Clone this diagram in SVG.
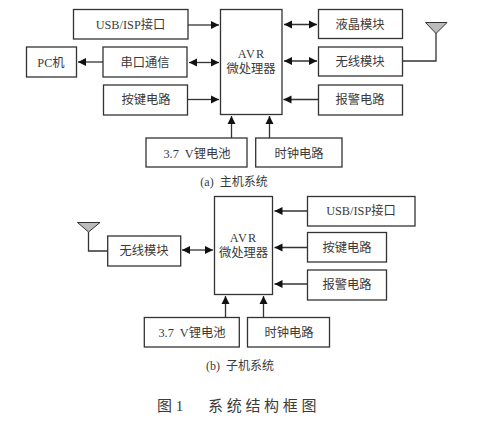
<svg xmlns="http://www.w3.org/2000/svg" width="484" height="425" viewBox="0 0 484 425">
<style>
.b{fill:#fff;stroke:#333;stroke-width:1.3}
.t{font-family:"Liberation Serif","Noto Sans CJK SC",serif;font-size:12.300px;fill:#3a3a3a;text-anchor:middle}
.c{font-size:11.500px}
.n{letter-spacing:1px}
.g{font-size:15px}
.l{fill:none;stroke:#333;stroke-width:1.3}
.a{fill:#bbb;stroke:#333;stroke-width:1}
</style>
<defs>
<marker id="h" markerWidth="9" markerHeight="9" refX="8" refY="4.500" orient="auto-start-reverse" markerUnits="userSpaceOnUse"><path d="M0 0.500L8 4.500L0 8.500Z" fill="#111"/></marker>
</defs>
<rect width="484" height="425" fill="#fff"/>
<g id="connectors">
<path class="l" marker-end="url(#h)" d="M188 25H219"/>
<path class="l" marker-end="url(#h)" d="M103 62H78"/>
<path class="l" marker-start="url(#h)" marker-end="url(#h)" d="M189 62.500H219"/>
<path class="l" marker-end="url(#h)" d="M188 99.500H219"/>
<path class="l" marker-end="url(#h)" d="M231.500 138V116"/>
<path class="l" marker-end="url(#h)" d="M269.500 138V116"/>
<path class="l" marker-start="url(#h)" marker-end="url(#h)" d="M284 24.500H317"/>
<path class="l" marker-start="url(#h)" marker-end="url(#h)" d="M284 61H317"/>
<path class="l" marker-end="url(#h)" d="M318 99.500H283.500"/>
<path class="l" d="M402.500 61H436V33"/>
<path class="l" marker-start="url(#h)" marker-end="url(#h)" d="M182 250H213"/>
<path class="l" d="M107.500 251H88.500V232"/>
<path class="l" marker-end="url(#h)" d="M225.500 317.500V296"/>
<path class="l" marker-end="url(#h)" d="M263.500 317.500V296"/>
<path class="l" marker-end="url(#h)" d="M307.500 211H274.500"/>
<path class="l" marker-end="url(#h)" d="M307.500 247.500H274.500"/>
<path class="l" marker-end="url(#h)" d="M307.500 284H274.500"/>
<path class="a" d="M425.500 22.500H447L436 33.500Z"/>
<path class="a" d="M77.500 222.500H100L88.500 232Z"/>
</g>
<g id="top-avr"><rect class="b" x="220.500" y="9.500" width="61.500" height="105"/><text class="t n" x="251.500" y="58">AVR</text><text class="t" x="251" y="73">微处理器</text></g>
<g id="top-usb"><rect class="b" x="73.500" y="9.500" width="114.500" height="29.500"/><text class="t" x="130.500" y="29">USB/ISP接口</text></g>
<g id="top-pc"><rect class="b" x="26.500" y="47" width="50" height="30"/><text class="t" x="51" y="66.500">PC机</text></g>
<g id="top-uart"><rect class="b" x="103" y="47" width="84" height="30"/><text class="t" x="145" y="66.500">串口通信</text></g>
<g id="top-key"><rect class="b" x="103.500" y="85" width="84" height="30"/><text class="t" x="146" y="104">按键电路</text></g>
<g id="top-bat"><rect class="b" x="146" y="138" width="101" height="29"/><text class="t" x="197" y="157.500" xml:space="preserve">3.7  V锂电池</text></g>
<g id="top-clk"><rect class="b" x="255.700" y="138" width="86.300" height="29"/><text class="t" x="299" y="157.500">时钟电路</text></g>
<g id="top-lcd"><rect class="b" x="318.500" y="9.500" width="84" height="29"/><text class="t" x="360" y="28.500">液晶模块</text></g>
<g id="top-rf"><rect class="b" x="318.500" y="47" width="84" height="29"/><text class="t" x="360" y="65.500">无线模块</text></g>
<g id="top-alarm"><rect class="b" x="318.500" y="85" width="84" height="30"/><text class="t" x="360" y="104">报警电路</text></g>
<g id="sub-avr"><rect class="b" x="214.500" y="196.500" width="58" height="98"/><text class="t n" x="243.500" y="242">AVR</text><text class="t" x="243.500" y="256.500">微处理器</text></g>
<g id="sub-rf"><rect class="b" x="107.700" y="236" width="73" height="30"/><text class="t" x="144" y="255">无线模块</text></g>
<g id="sub-usb"><rect class="b" x="307.500" y="196.500" width="107.500" height="29.500"/><text class="t" x="361" y="215">USB/ISP接口</text></g>
<g id="sub-key"><rect class="b" x="307.500" y="232.500" width="79" height="29.500"/><text class="t" x="347" y="252">按键电路</text></g>
<g id="sub-alarm"><rect class="b" x="307.500" y="270" width="79" height="30"/><text class="t" x="347" y="289">报警电路</text></g>
<g id="sub-bat"><rect class="b" x="144.300" y="317.500" width="95" height="29.500"/><text class="t" x="192" y="336.500" xml:space="preserve">3.7  V锂电池</text></g>
<g id="sub-clk"><rect class="b" x="247.500" y="317.500" width="82" height="29.500"/><text class="t" x="289" y="336.500">时钟电路</text></g>
<text class="t c" x="234" y="186" style="font-size:12px" xml:space="preserve">(a)  主机系统</text>
<text class="t c" x="240" y="370" style="font-size:12px" xml:space="preserve">(b)  子机系统</text>
<text class="t g" x="157" y="411" style="text-anchor:start" xml:space="preserve">图 1</text>
<text class="t g" x="208" y="411" style="text-anchor:start;letter-spacing:3.700px">系统结构框图</text>
</svg>
